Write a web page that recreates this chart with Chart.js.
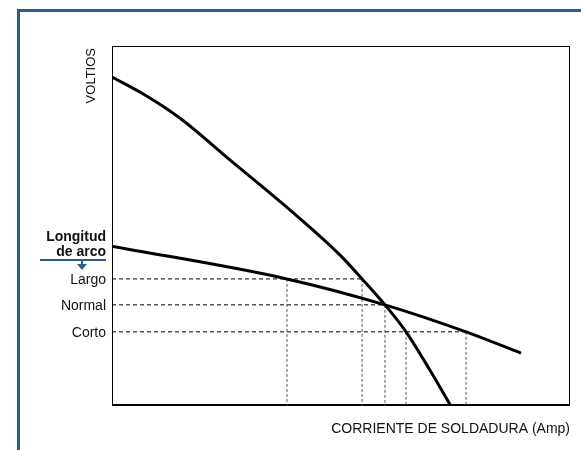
<!DOCTYPE html>
<html>
<head>
<meta charset="utf-8">
<script src="https://cdn.jsdelivr.net/npm/chart.js@4/dist/chart.umd.min.js"></script>
<style>
  body { margin: 0; background: #fff; }
  canvas { display: block; }
</style>
</head>
<body>
<canvas id="arcChart" width="581" height="450"></canvas>
<script>
// power source curve (steep) - current vs voltage, axis units 0..100
const sourceAmp  = [0, 7.2, 14.8, 25.8, 38.9, 49.8, 54.6, 59.6, 64.2, 69.4, 74.0];
const sourceVolt = [91.4, 86.4, 80.0, 68.3, 54.4, 41.9, 35.3, 28.1, 20.6, 10.0, 0];

// arc characteristic (shallow line)
const arcAmp  = [0, 38.2, 59.6, 77.3, 89.3];
const arcVolt = [44.4, 35.3, 28.1, 20.6, 14.7];

// arc length levels
const arcLabels = ['Largo', 'Normal', 'Corto'];
const arcLevels = [35.3, 28.1, 20.6];
const levelEnds = [54.6, 59.6, 77.3];

// vertical guides down to the current axis
const guideAmp   = [38.2, 54.6, 59.6, 64.2, 77.3];
const guideLevel = [35.3, 35.3, 28.1, 20.6, 20.6];

const font = '"Liberation Sans", Arial, sans-serif';

function toPoints(xs, ys) {
    return xs.map((x, i) => ({ x: x, y: ys[i] }));
}

const datasets = [
    {
        data: toPoints(sourceAmp, sourceVolt),
        borderColor: '#000',
        borderWidth: 3,
        cubicInterpolationMode: 'monotone',
        order: 0
    },
    {
        data: toPoints(arcAmp, arcVolt),
        borderColor: '#000',
        borderWidth: 3,
        cubicInterpolationMode: 'monotone',
        order: 0
    }
];

arcLevels.forEach((lvl, i) => {
    datasets.push({
        data: [{ x: 0, y: lvl }, { x: levelEnds[i], y: lvl }],
        borderColor: '#000',
        borderWidth: 1,
        borderDash: [4, 3],
        order: 1
    });
});

guideAmp.forEach((amp, i) => {
    datasets.push({
        data: [{ x: amp, y: guideLevel[i] }, { x: amp, y: 0 }],
        borderColor: '#555',
        borderWidth: 1,
        borderDash: [3, 2],
        order: 1
    });
});

// frame, box, labels
const decor = {
    id: 'decor',
    beforeDatasetsDraw(chart) {
        const ctx = chart.ctx;
        const a = chart.chartArea;
        ctx.save();
        // blue outer frame
        ctx.fillStyle = '#2d5d89';
        ctx.fillRect(17, 9, 581 - 17, 3);
        ctx.fillRect(17, 9, 3, 450 - 9);
        // plot box
        ctx.strokeStyle = '#000';
        ctx.lineWidth = 1;
        ctx.strokeRect(a.left + 0.5, a.top + 0.5, a.right - a.left - 1, a.bottom - a.top - 1);
        ctx.fillStyle = '#000';
        ctx.fillRect(a.left, a.bottom - 2, a.right - a.left, 2);
        ctx.restore();
    },
    afterDraw(chart) {
        const ctx = chart.ctx;
        const a = chart.chartArea;
        const y = chart.scales.y;
        ctx.save();
        ctx.fillStyle = '#111';
        ctx.textAlign = 'right';
        ctx.textBaseline = 'middle';
        ctx.font = '14px ' + font;
        arcLabels.forEach((lab, i) => {
            ctx.fillText(lab, a.left - 6, y.getPixelForValue(arcLevels[i]) + 1);
        });
        ctx.font = 'bold 14px ' + font;
        ctx.textBaseline = 'alphabetic';
        ctx.fillText('Longitud', a.left - 6, 241);
        ctx.fillText('de arco', a.left - 6, 256);
        // blue rule with arrow
        ctx.fillStyle = '#2d5d89';
        ctx.fillRect(40, 259, a.left - 6 - 40, 2);
        ctx.fillRect(81, 261, 2, 4);
        ctx.beginPath();
        ctx.moveTo(77, 264);
        ctx.lineTo(87, 264);
        ctx.lineTo(82, 270);
        ctx.closePath();
        ctx.fill();
        // axis titles
        ctx.fillStyle = '#111';
        ctx.font = '14px ' + font;
        ctx.textBaseline = 'alphabetic';
        ctx.fillText('CORRIENTE DE SOLDADURA (Amp)', a.right, 433);
        ctx.translate(95, 48);
        ctx.rotate(-Math.PI / 2);
        ctx.font = '13px ' + font;
        ctx.fillText('VOLTIOS', 0, 0);
        ctx.restore();
    }
};

new Chart(document.getElementById('arcChart'), {
    type: 'line',
    data: { datasets: datasets },
    options: {
        responsive: false,
        animation: false,
        layout: { padding: { left: 112, top: 46, right: 11, bottom: 44 } },
        elements: { point: { radius: 0 } },
        scales: {
            x: { type: 'linear', min: 0, max: 100, display: false },
            y: { min: 0, max: 100, display: false }
        },
        plugins: {
            legend: { display: false },
            tooltip: { enabled: false }
        }
    },
    plugins: [decor]
});
</script>
</body>
</html>
